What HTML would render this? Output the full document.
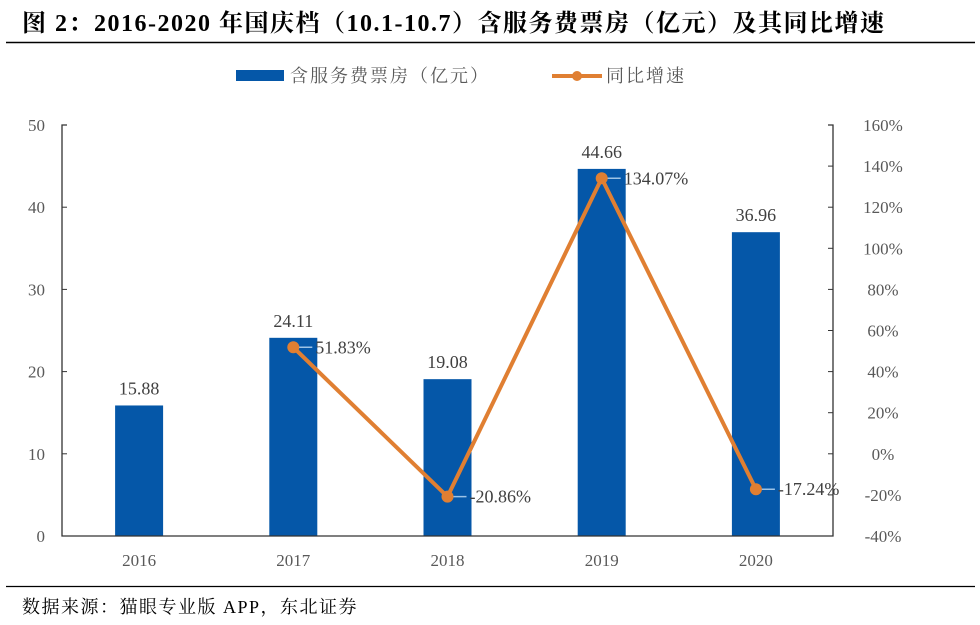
<!DOCTYPE html>
<html><head><meta charset="utf-8"><style>
body{margin:0;background:#fff;width:980px;height:625px;overflow:hidden}
svg{display:block}
text{font-family:"Liberation Serif","Noto Serif CJK SC",serif}
</style></head><body>
<svg width="980" height="625" id="c">
<text x="22" y="31" font-size="24" font-weight="bold" fill="#000" letter-spacing="1.5">图 2：2016-2020 年国庆档（10.1-10.7）含服务费票房（亿元）及其同比增速</text>
<line x1="6" y1="42.5" x2="975" y2="42.5" stroke="#000" stroke-width="1.5"/>
<g>
<g><rect x="236" y="70" width="48" height="11" fill="#0557A8"/><text x="290" y="82" font-size="18" fill="#595959" letter-spacing="2">含服务费票房（亿元）</text></g>
<g><line x1="552" y1="76" x2="602" y2="76" stroke="#E07F32" stroke-width="4"/><circle cx="577" cy="76" r="5" fill="#E07F32"/><text x="606" y="82" font-size="18" fill="#595959" letter-spacing="2">同比增速</text></g>
</g>
<g id="plot"></g>
<line x1="6" y1="586.5" x2="975" y2="586.5" stroke="#000" stroke-width="1.2"/>
<text x="22" y="613" font-size="18" fill="#000" letter-spacing="1.5">数据来源：猫眼专业版 APP，东北证券</text>
</svg>
<script>
const categories=["2016","2017","2018","2019","2020"];
const boxOffice=[15.88,24.11,19.08,44.66,36.96];
const growth=[null,51.83,-20.86,134.07,-17.24];
const leftTicks=[0,10,20,30,40,50];
const rightTicks=[-40,-20,0,20,40,60,80,100,120,140,160];
const L=62,R=833,T=125,B=536;
const step=(R-L)/categories.length;
const xc=i=>L+step*(i+0.5);
const yl=v=>B-(v-0)/(50-0)*(B-T);
const yr=v=>B-(v+40)/(200)*(B-T);
const NS="http://www.w3.org/2000/svg";
const g=document.getElementById('plot');
function mk(t,a,txt){const e=document.createElementNS(NS,t);for(const k in a)e.setAttribute(k,a[k]);if(txt!=null)e.textContent=txt;g.appendChild(e);return e;}
boxOffice.forEach((v,i)=>{
 const r=mk('rect',{x:xc(i)-24,y:yl(v),width:48,height:B-yl(v),fill:'#0557A8'});
 
 
 const t=mk('text',{x:xc(i),y:yl(v)-11,'font-size':18,fill:'#404040','text-anchor':'middle'},v.toFixed(2));
 
 
});
let a=mk('path',{d:`M${L+5},${T}H${L}V${B}H${R}V${T}H${R-5}`,fill:'none',stroke:'#333','stroke-width':1.3});


leftTicks.forEach(v=>{
 mk('line',{x1:L,y1:yl(v),x2:L+5,y2:yl(v),stroke:'#333'});
 const t=mk('text',{x:L-17,y:yl(v)+6,'font-size':17,fill:'#595959','text-anchor':'end'},v);
 
 
});
rightTicks.forEach(v=>{
 mk('line',{x1:R-5,y1:yr(v),x2:R,y2:yr(v),stroke:'#333'});
 const t=mk('text',{x:R+50,y:yr(v)+6,'font-size':17,fill:'#595959','text-anchor':'middle'},v+'%');
 
 
});
categories.forEach((c,i)=>{
 const t=mk('text',{x:xc(i),y:B+30,'font-size':17,fill:'#595959','text-anchor':'middle'},c);
 
 
});
const pts=growth.map((v,i)=>v==null?null:[xc(i),yr(v)]).filter(p=>p);
const pl=mk('polyline',{points:pts.map(p=>p.join(',')).join(' '),fill:'none',stroke:'#E07F32','stroke-width':4});


growth.forEach((v,i)=>{
 if(v==null)return;
 const x=xc(i),y=yr(v);
 mk('line',{x1:x,y1:y,x2:x+19,y2:y,stroke:'#9DC3E6','stroke-width':1.5});
 const c=mk('circle',{cx:x,cy:y,r:6,fill:'#E07F32'});
 
 
 const t=mk('text',{x:x+22,y:y+6,'font-size':18,fill:'#404040'},v.toFixed(2)+'%');
 
 
});
</script>
</body></html>
